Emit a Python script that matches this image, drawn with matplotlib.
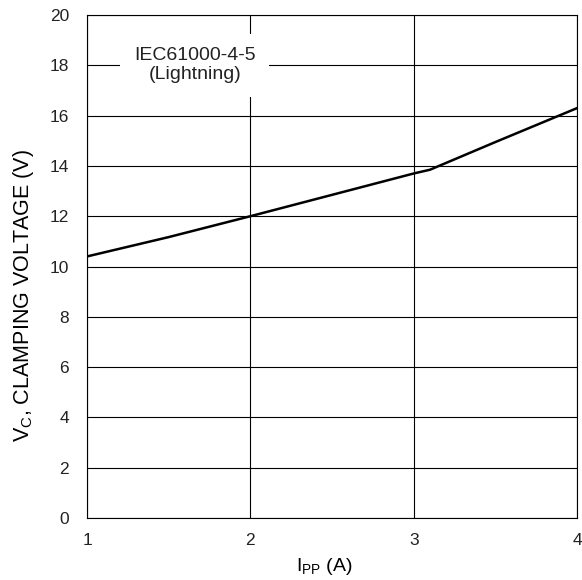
import matplotlib
matplotlib.use("Agg")
from matplotlib import pyplot as plt

plt.rcParams['font.family'] = ['Liberation Sans', 'DejaVu Sans']

# данные
ipp = [1.0, 1.5, 2.0, 2.5, 3.0, 3.1, 3.5, 4.0]
vc = [10.4, 11.17, 12.0, 12.85, 13.7, 13.85, 14.95, 16.3]
x_ticks = [1, 2, 3, 4]
y_ticks = list(range(0, 21, 2))

fig = plt.figure(figsize=(5.82, 5.80), dpi=100)
ax = fig.add_axes([0.1495, 0.107, 0.842, 0.867])

ax.plot(ipp, vc, color='black', linewidth=1.8, zorder=3)

ax.set_xlim(1, 4)
ax.set_ylim(0, 20)
ax.set_xticks(x_ticks)
ax.set_yticks(y_ticks)
ax.grid(True, color='black', linewidth=0.8)
ax.tick_params(axis='y', length=0, labelsize=12.5, pad=13, labelcolor='#222222')
ax.tick_params(axis='x', length=0, labelsize=12.5, pad=11, labelcolor='#222222')
for s in ax.spines.values():
    s.set_linewidth(0.8)

ax.text(1.66, 18.0, 'IEC61000-4-5\n(Lightning)', ha='center', va='center',
        fontsize=14, linespacing=1.15, zorder=4, color='#222222',
        bbox=dict(facecolor='white', edgecolor='none', pad=10))

ax.set_xlabel(r'I$_{\mathregular{PP}}$ (A)', fontsize=14)
ax.set_ylabel(r'V$_{\mathregular{C}}$, CLAMPING VOLTAGE (V)', fontsize=15.5)
ax.xaxis.set_label_coords(0.484, -0.076)
ax.yaxis.set_label_coords(-0.104, 0.443)

plt.savefig('out.png', dpi=100)
